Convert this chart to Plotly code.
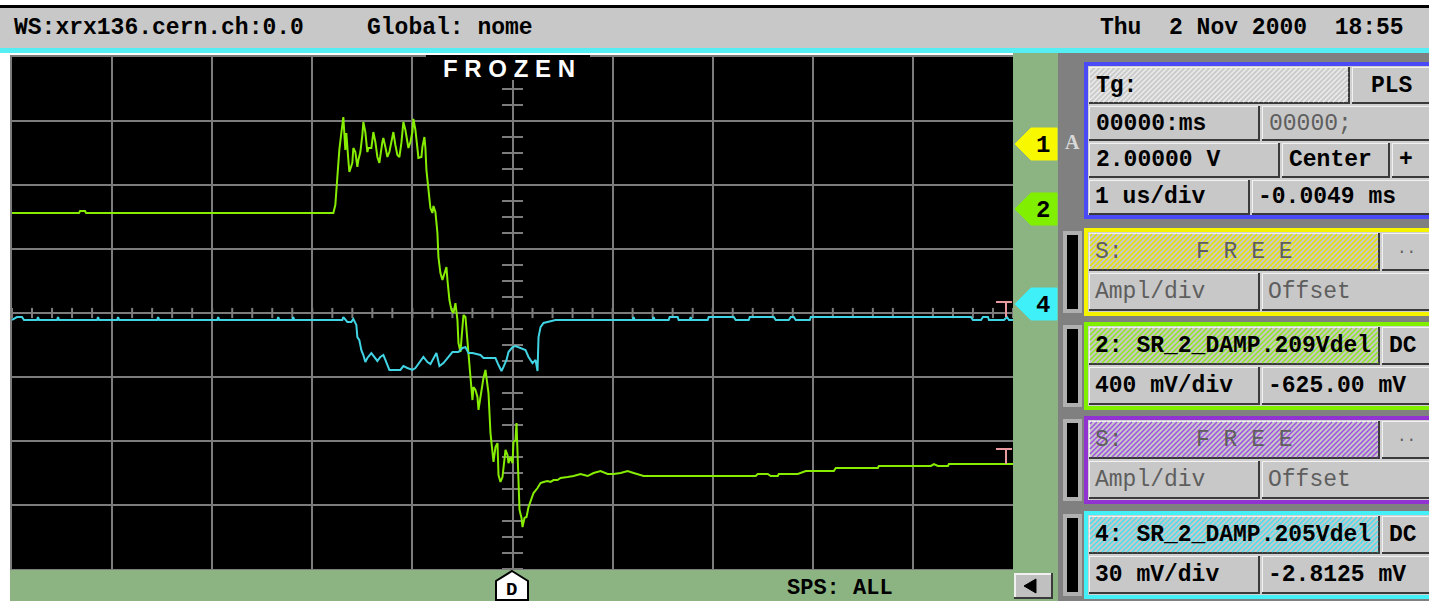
import plotly.graph_objects as go

W, H = 1429, 601

# ---------------- data ----------------
US_PER_DIV = 1.0
N_XDIV = 10
N_YDIV = 8
CH2_MV_PER_DIV = 400.0
CH2_OFFSET_MV = -625.0
CH4_MV_PER_DIV = 30.0
CH4_OFFSET_MV = -2.8125

# channel 2 (green)  time in microseconds, amplitude in mV
CH2_T = [-5.00, -4.33, -4.32, -4.27, -4.26, -1.79, -1.77, -1.75, -1.73, -1.71, -1.69, -1.67, -1.66, -1.64, -1.63,
         -1.60, -1.59, -1.57, -1.55, -1.54, -1.52, -1.50, -1.49, -1.47, -1.45, -1.44, -1.41, -1.39, -1.37, -1.35,
         -1.33, -1.30, -1.29, -1.27, -1.25, -1.23, -1.21, -1.19, -1.17, -1.15, -1.13, -1.11, -1.09, -1.07, -1.05,
         -1.04, -1.02, -1.00, -0.99, -0.97, -0.95, -0.94, -0.91, -0.90, -0.88, -0.87, -0.86, -0.84, -0.82, -0.80,
         -0.79, -0.77, -0.75, -0.74, -0.72, -0.70, -0.68, -0.66, -0.65, -0.63, -0.61, -0.59, -0.57, -0.55, -0.54,
         -0.52, -0.50, -0.49, -0.47, -0.45, -0.44, -0.42, -0.40, -0.39, -0.37, -0.35, -0.34, -0.32, -0.30, -0.29,
         -0.27, -0.25, -0.24, -0.22, -0.20, -0.19, -0.17, -0.15, -0.14, -0.12, -0.10, -0.09, -0.07, -0.05, -0.04,
         -0.02, 0.00, 0.01, 0.03, 0.04, 0.05, 0.06, 0.07, 0.09, 0.10, 0.12, 0.14, 0.16, 0.19, 0.21,
         0.25, 0.28, 0.31, 0.35, 0.38, 0.41, 0.45, 0.48, 0.55, 0.61, 0.68, 0.75, 0.81, 0.88, 0.95,
         1.01, 1.08, 1.15, 1.21, 1.31, 2.43, 2.45, 2.55, 2.58, 2.65, 2.66, 2.85, 2.88, 2.93, 3.21,
         3.23, 3.65, 3.66, 4.18, 4.21, 4.25, 4.35, 4.36, 5.00]
CH2_MV = [0, 0, 12, 12, 0, 0, 50, 238, 394, 500, 600, 394, 500, 331, 256,
          313, 406, 381, 288, 331, 381, 488, 569, 506, 381, 406, 406, 506, 444, 350,
          313, 444, 469, 413, 350, 381, 438, 506, 425, 363, 350, 438, 569, 519, 444,
          406, 444, 506, 588, 519, 406, 344, 350, 413, 475, 406, 269, 144, 31, 0,
          44, 6, -125, -275, -375, -419, -369, -338, -419, -544, -606, -625, -563, -669, -813,
          -869, -713, -638, -650, -813, -906, -1025, -1169, -1088, -1106, -1150, -1231, -1150, -1063, -1031,
          -981, -1088, -1125, -1375, -1500, -1556, -1463, -1438, -1638, -1681, -1650, -1588, -1481, -1513, -1563,
          -1525, -1563, -1431, -1419, -1313, -1544, -1625, -1856, -1906, -1963, -1906, -1900, -1838, -1781, -1750,
          -1719, -1688, -1681, -1675, -1681, -1669, -1669, -1656, -1650, -1644, -1631, -1644, -1625, -1613, -1631,
          -1631, -1625, -1613, -1625, -1644, -1644, -1631, -1631, -1644, -1644, -1631, -1631, -1625, -1613, -1613,
          -1594, -1594, -1581, -1581, -1569, -1581, -1581, -1569, -1569]

# channel 4 (cyan)  time in microseconds, amplitude in mV
CH4_T = [-5.00, -4.95, -4.90, -4.88, -4.75, -4.74, -4.73, -4.55, -4.54, -4.53, -4.15, -4.14, -4.13, -3.95, -3.94,
         -3.93, -3.55, -3.54, -3.53, -2.95, -2.94, -2.93, -2.35, -2.34, -2.33, -2.20, -2.19, -2.18, -1.70, -1.69,
         -1.65, -1.61, -1.59, -1.56, -1.55, -1.53, -1.51, -1.49, -1.47, -1.45, -1.41, -1.38, -1.35, -1.32, -1.29,
         -1.27, -1.25, -1.23, -1.12, -1.09, -1.05, -1.00, -0.97, -0.93, -0.89, -0.85, -0.82, -0.76, -0.73, -0.69,
         -0.64, -0.60, -0.54, -0.50, -0.47, -0.44, -0.40, -0.32, -0.29, -0.17, -0.14, -0.11, -0.09, -0.06, -0.04,
         0.00, 0.03, 0.08, 0.13, 0.16, 0.20, 0.23, 0.25, 0.26, 0.28, 0.31, 0.35, 0.43, 1.20, 1.21,
         1.22, 1.40, 1.41, 1.42, 1.56, 1.57, 1.65, 1.66, 1.77, 1.78, 1.79, 1.95, 1.96, 2.21, 2.23,
         2.36, 2.37, 2.61, 2.63, 2.76, 2.78, 2.81, 2.83, 2.97, 2.98, 4.58, 4.60, 4.68, 4.70, 4.75,
         4.76, 4.91, 4.94, 4.96, 5.00]
CH4_MV = [-6.1, -4.7, -4.7, -6.1, -6.1, -4.7, -6.1, -6.1, -4.7, -6.1, -6.1, -4.7, -6.1, -6.1, -4.7,
          -6.1, -6.1, -4.7, -6.1, -6.1, -4.7, -6.1, -6.1, -4.7, -6.1, -6.1, -4.7, -6.1, -6.1, -4.7,
          -7.0, -7.0, -5.6, -8.4, -14.1, -15.5, -20.2, -22.5, -25.8, -23.9, -21.6, -23.4, -25.3, -23.4, -22.5,
          -24.8, -27.2, -29.5, -29.5, -27.7, -28.6, -29.5, -28.6, -25.8, -23.4, -25.8, -26.7, -21.6, -27.7, -26.3,
          -23.4, -21.1, -21.1, -19.2, -18.8, -21.6, -21.6, -22.5, -23.9, -23.9, -27.2, -30.0, -28.1, -24.8, -21.1,
          -18.8, -18.3, -19.2, -20.2, -23.4, -26.3, -24.8, -30.0, -14.1, -9.4, -7.5, -7.0, -6.1, -6.1, -4.7,
          -6.1, -6.1, -4.7, -6.1, -6.1, -4.7, -4.7, -6.1, -6.1, -4.7, -6.1, -6.1, -4.7, -4.7, -6.1,
          -6.1, -4.7, -4.7, -6.1, -6.1, -4.7, -4.7, -6.1, -6.1, -4.7, -4.7, -6.1, -6.1, -4.7, -4.7,
          -6.1, -6.1, -4.7, -6.1, -6.1]

HEADER_LEFT = "WS:xrx136.cern.ch:0.0"
HEADER_MID = "Global: nome"
HEADER_RIGHT = "Thu  2 Nov 2000  18:55"
STATUS = "F R O Z E N"
FOOTER = "SPS: ALL"

# ---------------- helpers ----------------
shapes = []
annotations = []

GRID = "#7c7c7c"
PANEL = "#808080"
SAGE = "#8cb482"
HDR = "#c8c8c8"
CELL = "#c8c8c8"
MONO = "Liberation Mono"


def X(x):
    return x / W


def Y(y):
    return 1 - y / H


def rect(x0, y0, x1, y1, fill, line=None, lw=0, layer="above"):
    shapes.append(dict(type="rect", xref="paper", yref="paper", x0=X(x0), x1=X(x1), y0=Y(y1), y1=Y(y0),
                       fillcolor=fill, line=dict(width=lw, color=line or fill), layer=layer))


def seg(x0, y0, x1, y1, color, w=2):
    shapes.append(dict(type="line", xref="paper", yref="paper", x0=X(x0), x1=X(x1), y0=Y(y0), y1=Y(y1),
                       line=dict(color=color, width=w), layer="above"))


def path(points, fill, line="black", lw=1):
    d = "M " + " L ".join(f"{X(a):.5f},{Y(b):.5f}" for a, b in points) + " Z"
    shapes.append(dict(type="path", xref="paper", yref="paper", path=d, fillcolor=fill,
                       line=dict(color=line, width=lw), layer="above"))


def hatch(x0, y0, x1, y1, color, step=5, w=1.5):
    parts = []
    c = x0 + y0 + 2
    while c < x1 + y1:
        sx = max(x0, c - y1)
        ex = min(x1, c - y0)
        if ex > sx:
            parts.append(f"M {X(sx):.5f},{Y(c - sx):.5f} L {X(ex):.5f},{Y(c - ex):.5f}")
        c += step
    shapes.append(dict(type="path", xref="paper", yref="paper", path=" ".join(parts),
                       line=dict(color=color, width=w), layer="above"))


def text(x, y, s, size=23, color="black", anchor="left", family=MONO, weight="bold"):
    annotations.append(dict(x=X(x), y=Y(y), xref="paper", yref="paper", text=s, showarrow=False,
                            xanchor=anchor, yanchor="middle",
                            font=dict(family=family, size=size, color=color, weight=weight)))


def cell(x0, y0, x1, y1, fill=CELL, hatch_col=None):
    rect(x0, y0, x1, y1, "#3a3a3a")
    rect(x0, y0, x1 - 2, y1 - 2, "#f2f2f2")
    rect(x0 + 1, y0 + 1, x1 - 2, y1 - 2, fill)
    if hatch_col:
        hatch(x0 + 1, y0 + 1, x1 - 2, y1 - 2, hatch_col)


# ---------------- frame / header ----------------
rect(0, 0, W, 5, "white")
rect(0, 5, W, 8, "black")
rect(0, 8, W, 48, HDR)
text(12, 28, HEADER_LEFT)
text(365, 28, HEADER_MID)
text(1406, 28, HEADER_RIGHT, anchor="right")

# green strips
rect(1013, 53, 1058, H, SAGE)
rect(10, 570, 1058, H, SAGE)
# panel background
rect(1058, 53, W, H, PANEL)

# FROZEN label on a black patch that interrupts the top graticule line
rect(426, 55, 590, 80, "black")
text(509, 68, STATUS, size=24, color="white", family="Liberation Sans", anchor="center")
# cyan separator under the header
rect(0, 48, W, 53, "#55eef2")

# channel reference markers on the green strip
for (yc, col, lab) in [(144, "#f8f800", "1"), (209, "#80f000", "2"), (304, "#40f0f8", "4")]:
    path([(1015, yc), (1031, yc - 16), (1057, yc - 16), (1057, yc + 16), (1031, yc + 16)], col, line=col)
    text(1043, yc + 1, lab, size=24, anchor="center")
text(1072, 142, "A", size=20, color="#d8d8d8", family="Liberation Serif", anchor="center")

# bottom widgets
path([(512, 571), (528, 581), (528, 600), (496, 600), (496, 581)], "white", line="black", lw=2)
text(512, 590, "D", size=19, anchor="center")
text(785, 588, FOOTER, size=22)
rect(1014, 573, 1053, 599, "#3a3a3a")
rect(1014, 573, 1051, 597, "#f0f0f0")
rect(1016, 575, 1051, 597, "#c0c0c0")
path([(1024, 586), (1036, 579), (1036, 593)], "black", line="black", lw=1)

# ---------------- right control panel ----------------
GREYTXT = "#5e5e5e"


def box(y0, y1, color):
    rect(1084, y0, W + 6, y1, color)
    rect(1088, y0 + 4, W + 6, y1 - 4, "#d0d0d0")


def slot(y0, y1):
    rect(1063, y0, 1082, y1, "#b0b0b0")
    rect(1067, y0 + 4, 1078, y1 - 4, "black")


# timebase box (blue)
box(62, 219, "#4a4af6")
cell(1089, 67, 1350, 104, "#cbcbcb", "#ececec")
text(1094, 86, "Tg:")
cell(1352, 67, 1434, 104)
text(1392, 86, "PLS", anchor="center")
cell(1089, 106, 1260, 141)
text(1094, 124, "00000:ms")
cell(1262, 106, 1434, 141)
text(1267, 124, "00000;", color=GREYTXT, weight="normal")
cell(1089, 143, 1280, 178)
text(1094, 160, "2.00000 V")
cell(1282, 143, 1390, 178)
text(1287, 160, "Center")
cell(1392, 143, 1434, 178)
text(1406, 160, "+", anchor="center")
cell(1089, 180, 1250, 215)
text(1093, 197, "1 us/div")
cell(1252, 180, 1434, 215)
text(1256, 197, "-0.0049 ms")

channels = [
    (228, "#f4f400", "#e4e400", None, None, None, None),
    (322, "#80f000", "#8ee820", "2: SR_2_DAMP.209Vdel", "DC", "400 mV/div", "-625.00 mV"),
    (416, "#9232d2", "#a050e0", None, None, None, None),
    (511, "#44f0f8", "#48e0ee", "4: SR_2_DAMP.205Vdel", "DC", "30 mV/div", "-2.8125 mV"),
]
for (y0, bcol, hcol, name, cpl, ampl, offs) in channels:
    y1 = y0 + 88
    box(y0, y1, bcol)
    slot(y0 + 3, y1 - 3)
    r1a, r1b = y0 + 5, y0 + 43
    r2a, r2b = y0 + 45, y0 + 83
    cell(1089, r1a, 1380, r1b, CELL, hcol)
    cell(1382, r1a, 1434, r1b)
    cell(1089, r2a, 1260, r2b)
    cell(1262, r2a, 1434, r2b)
    ym1 = (r1a + r1b) / 2
    ym2 = (r2a + r2b) / 2
    if name:
        text(1093, ym1, name)
        text(1387, ym1, cpl)
        text(1093, ym2, ampl)
        text(1266, ym2, offs)
    else:
        text(1093, ym1, "S:", color=GREYTXT, weight="normal")
        text(1244, ym1, "F R E E", color=GREYTXT, weight="normal", anchor="center")
        text(1406, ym1 - 3, "..", color=GREYTXT, weight="normal", anchor="center", size=16)
        text(1093, ym2, "Ampl/div", color=GREYTXT, weight="normal")
        text(1266, ym2, "Offset", color=GREYTXT, weight="normal")

# ---------------- scope graticule extras (data coords) ----------------
x_lo, x_hi = -N_XDIV / 2 * US_PER_DIV, N_XDIV / 2 * US_PER_DIV
y2_lo = CH2_OFFSET_MV - N_YDIV / 2 * CH2_MV_PER_DIV
y2_hi = CH2_OFFSET_MV + N_YDIV / 2 * CH2_MV_PER_DIV
y4_lo = CH4_OFFSET_MV - N_YDIV / 2 * CH4_MV_PER_DIV
y4_hi = CH4_OFFSET_MV + N_YDIV / 2 * CH4_MV_PER_DIV

k = 0
while x_lo + k * US_PER_DIV / 5 <= x_hi + 1e-9:
    t = x_lo + k * US_PER_DIV / 5
    shapes.append(dict(type="line", xref="x", yref="y", x0=t, x1=t,
                       y0=CH2_OFFSET_MV - CH2_MV_PER_DIV * 0.08, y1=CH2_OFFSET_MV + CH2_MV_PER_DIV * 0.08,
                       line=dict(color=GRID, width=2), layer="between"))
    k += 1
for j in range(-16, 17):
    v = CH2_OFFSET_MV + j * CH2_MV_PER_DIV / 4
    shapes.append(dict(type="line", xref="x", yref="y", x0=-0.105 * US_PER_DIV, x1=0.105 * US_PER_DIV,
                       y0=v, y1=v, line=dict(color=GRID, width=2), layer="between"))

# trace reference "T" markers (pink) at right edge
seg(996, 302, 1012, 302, "#e89aa0")
seg(1006, 302, 1006, 317, "#e89aa0")
seg(996, 449, 1012, 449, "#e89aa0")
seg(1006, 449, 1006, 464, "#e89aa0")

# ---------------- figure ----------------
fig = go.Figure()
fig.add_trace(go.Scatter(x=CH4_T, y=CH4_MV, mode="lines", yaxis="y2",
                         line=dict(color="#40d4e4", width=2), hoverinfo="skip"))
fig.add_trace(go.Scatter(x=CH2_T, y=CH2_MV, mode="lines", yaxis="y",
                         line=dict(color="#86ec00", width=2), hoverinfo="skip"))

fig.update_layout(
    width=W, height=H, margin=dict(l=0, r=0, t=0, b=0),
    paper_bgcolor="white", plot_bgcolor="black", showlegend=False, hovermode=False,
    xaxis=dict(domain=[X(12), X(1013)], range=[x_lo, x_hi], tick0=x_lo, dtick=US_PER_DIV,
               showgrid=True, gridcolor=GRID, gridwidth=2, zeroline=False, showticklabels=False,
               ticks="", showline=True, mirror=True, linecolor=GRID, linewidth=2, fixedrange=True),
    yaxis=dict(domain=[Y(569), Y(57)], range=[y2_lo, y2_hi], tick0=CH2_OFFSET_MV, dtick=CH2_MV_PER_DIV,
               showgrid=True, gridcolor=GRID, gridwidth=2, zeroline=False, showticklabels=False,
               ticks="", showline=True, mirror=True, linecolor=GRID, linewidth=2, fixedrange=True),
    yaxis2=dict(overlaying="y", range=[y4_lo, y4_hi], visible=False, fixedrange=True),
    shapes=shapes, annotations=annotations,
)

fig.write_html("out.html", config={"displayModeBar": False})
